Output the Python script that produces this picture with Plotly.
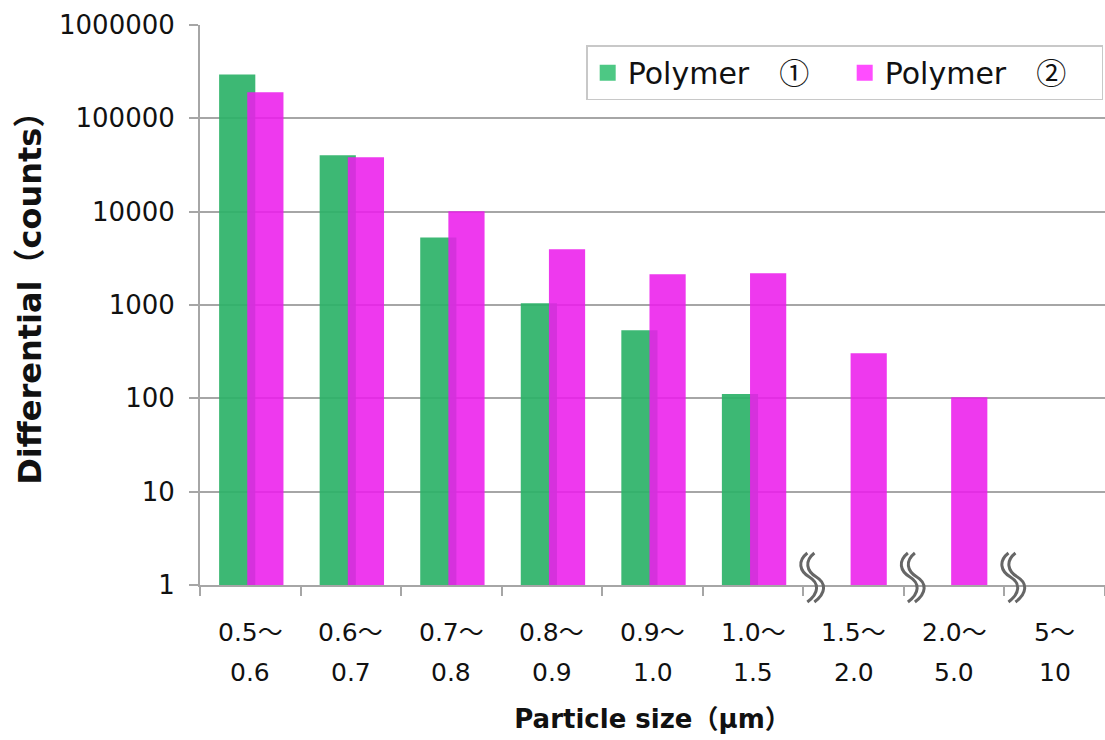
import plotly.graph_objects as go

# Particle size bins (two-line labels) and counts per bin
size_from = ["0.5～", "0.6～", "0.7～", "0.8～", "0.9～", "1.0～", "1.5～", "2.0～", "5～"]
size_to = ["0.6", "0.7", "0.8", "0.9", "1.0", "1.5", "2.0", "5.0", "10"]
categories = [f"{a}{b}" for a, b in zip(size_from, size_to)]

polymer1 = [295000, 40200, 5300, 1045, 537, 111, None, None, None]
polymer2 = [190000, 38200, 10100, 3960, 2140, 2190, 305, 103, None]

series_names = ["Polymer", "Polymer"]
series_marks = ["①", "②"]
bar_colors = ["rgba(44,178,104,0.92)", "rgba(236,30,236,0.88)"]
legend_colors = ["#4dc884", "#ff4dff"]

# axis breaks sit on the boundaries after these bins
break_after = [5, 6, 7]

FONT = "DejaVu Sans, Noto Sans CJK JP, sans-serif"
CJK = "Noto Sans CJK JP"
n = len(categories)
bar_w = 0.36

fig = go.Figure()
fig.add_trace(go.Bar(x=categories, y=polymer1, width=bar_w, offset=-0.31,
                     marker=dict(color=bar_colors[0], line=dict(width=0)),
                     showlegend=False, name=series_names[0]))
fig.add_trace(go.Bar(x=categories, y=polymer2, width=bar_w, offset=-0.03,
                     marker=dict(color=bar_colors[1], line=dict(width=0)),
                     showlegend=False, name=series_names[1]))

# legend entries with larger square swatches
for name, mark, col in zip(series_names, series_marks, legend_colors):
    label = f"{name}　<span style='font-family:{CJK}'>{mark}</span>"
    fig.add_trace(go.Scatter(x=[None], y=[None], mode="markers", name=label,
                             marker=dict(symbol="square", size=17, color=col)))

# two-line category labels under the axis
for cat, a, b in zip(categories, size_from, size_to):
    fig.add_annotation(x=cat, xref="x", y=-0.084, yref="paper", text=a,
                       showarrow=False, yanchor="middle",
                       font=dict(family=FONT, size=25, color="#111"))
    fig.add_annotation(x=cat, xref="x", y=-0.157, yref="paper", text=b,
                       showarrow=False, yanchor="middle",
                       font=dict(family=FONT, size=25, color="#111"))

# y axis title
fig.add_annotation(x=-0.188, xref="paper", y=0.527, yref="paper",
                   text="<b>Differential（counts）</b>", textangle=-90,
                   showarrow=False, xanchor="center", yanchor="middle",
                   font=dict(family=FONT, size=32, color="#111"))

# wavy break marks across the x axis
W, H = 905.0, 560.0
def stroke(cx_px, dx):
    pts = [(-4, -32), (-14, -24), (-12, -14), (-2, -8), (8, -2), (8, 8), (-4, 17)]
    p = [((cx_px + dx + px) / W, (-py) / H) for px, py in pts]
    return (f"M {p[0][0]},{p[0][1]} C {p[1][0]},{p[1][1]} {p[2][0]},{p[2][1]} {p[3][0]},{p[3][1]} "
            f"C {p[4][0]},{p[4][1]} {p[5][0]},{p[5][1]} {p[6][0]},{p[6][1]}")

for k in break_after:
    cx = W * (k + 1) / n + 8
    for dx in (0, 7):
        fig.add_shape(type="path", xref="paper", yref="paper", path=stroke(cx, dx),
                      line=dict(color="#666666", width=3))

fig.update_layout(
    width=1105, height=740,
    margin=dict(l=200, r=0, t=25, b=155),
    paper_bgcolor="white", plot_bgcolor="white",
    barmode="overlay",
    font=dict(family=FONT, size=25, color="#111"),
    legend=dict(orientation="h", x=0.998, xanchor="right", y=0.964, yanchor="top",
                bgcolor="white", bordercolor="#c8c8c8", borderwidth=1.5,
                font=dict(family=FONT, size=30, color="#111"),
                itemwidth=30, entrywidth=212, tracegroupgap=0),
    xaxis=dict(type="category", categoryorder="array", categoryarray=categories,
               range=[-0.5, n - 0.5], showticklabels=False,
               ticks="outside", ticklen=9, tickcolor="#a6a6a6", tickwidth=1.5,
               tickson="boundaries",
               showline=True, linecolor="#a6a6a6", linewidth=2, showgrid=False,
               title=dict(text="<b>Particle size（μm）</b>", standoff=124,
                          font=dict(family=FONT, size=26, color="#111"))),
    yaxis=dict(type="log", range=[0, 6], dtick=1,
               tickvals=[1, 10, 100, 1000, 10000, 100000, 1000000],
               ticktext=["1", "10", "100", "1000", "10000", "100000", "1000000"],
               ticks="outside", ticklen=9, tickcolor="#a6a6a6", tickwidth=1.5,
               ticklabelstandoff=9, tickfont=dict(size=26),
               showline=True, linecolor="#a6a6a6", linewidth=2,
               showgrid=True, gridcolor="#a6a6a6", gridwidth=1.5),
)

fig.write_html("out.html")
